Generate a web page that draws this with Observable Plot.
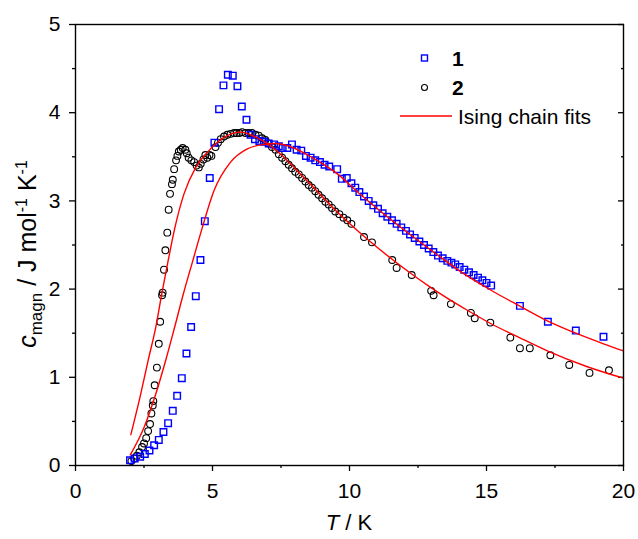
<!DOCTYPE html>
<html><head><meta charset="utf-8">
<script src="https://cdn.jsdelivr.net/npm/d3@7"></script>
<script src="https://cdn.jsdelivr.net/npm/@observablehq/plot@0.6"></script>
<style>
body{margin:0;background:#fff;}
svg{font-family:"Liberation Sans",Arial,sans-serif;}
</style>
</head><body><div id="chart"></div>
<script>
// Series 1 (blue squares): [T (K), c_magn]
const series1 = [[1.99,0.06],[2.16,0.08],[2.36,0.10],[2.53,0.13],[2.70,0.17],[2.87,0.23],[3.04,0.29],[3.21,0.38],[3.38,0.48],[3.55,0.62],[3.71,0.79],[3.88,0.99],[4.05,1.27],[4.22,1.57],[4.39,1.92],[4.56,2.33],[4.72,2.77],[4.90,3.26],[5.07,3.66],[5.24,4.04],[5.40,4.31],[5.56,4.43],[5.74,4.42],[5.91,4.30],[6.07,4.07],[6.24,3.92],[6.39,3.75],[6.55,3.70],[6.71,3.68],[6.88,3.67],[7.05,3.65],[7.25,3.64],[7.42,3.62],[7.56,3.60],[7.73,3.60],[7.90,3.64],[8.07,3.58],[8.24,3.57],[8.41,3.51],[8.58,3.49],[8.75,3.46],[8.92,3.44],[9.09,3.41],[9.26,3.39],[9.55,3.36],[9.72,3.25],[9.90,3.26],[10.07,3.20],[10.21,3.15],[10.36,3.10],[10.53,3.05],[10.70,3.00],[10.87,2.95],[11.04,2.91],[11.21,2.86],[11.38,2.82],[11.55,2.78],[11.72,2.74],[11.89,2.70],[12.06,2.66],[12.21,2.62],[12.38,2.58],[12.55,2.54],[12.72,2.50],[12.89,2.46],[13.06,2.42],[13.23,2.38],[13.40,2.35],[13.57,2.32],[13.72,2.30],[13.86,2.28],[14.02,2.25],[14.19,2.22],[14.36,2.19],[14.53,2.16],[14.69,2.13],[14.85,2.10],[15.00,2.07],[15.17,2.04],[16.22,1.81],[17.24,1.63],[18.26,1.53],[19.27,1.46]];
// Series 2 (black circles)
const series2 = [[2.04,0.05],[2.14,0.08],[2.24,0.11],[2.33,0.15],[2.43,0.21],[2.50,0.25],[2.58,0.31],[2.65,0.39],[2.72,0.47],[2.77,0.59],[2.82,0.68],[2.84,0.73],[2.89,0.91],[2.97,1.11],[3.04,1.38],[3.09,1.63],[3.16,1.93],[3.18,1.96],[3.23,2.22],[3.28,2.44],[3.35,2.64],[3.40,2.90],[3.45,3.08],[3.52,3.19],[3.55,3.24],[3.60,3.36],[3.67,3.46],[3.72,3.51],[3.77,3.56],[3.84,3.58],[3.91,3.60],[4.01,3.58],[4.06,3.54],[4.13,3.49],[4.23,3.46],[4.33,3.44],[4.42,3.40],[4.50,3.38],[4.57,3.42],[4.67,3.47],[4.74,3.52],[4.81,3.49],[4.89,3.52],[4.96,3.51],[5.11,3.61],[5.20,3.66],[5.30,3.70],[5.42,3.73],[5.54,3.75],[5.66,3.76],[5.79,3.77],[5.88,3.77],[5.98,3.77],[6.08,3.78],[6.20,3.77],[6.32,3.77],[6.44,3.77],[6.57,3.75],[6.69,3.74],[6.81,3.71],[6.93,3.69],[7.05,3.65],[7.17,3.61],[7.30,3.58],[7.42,3.53],[7.54,3.49],[7.66,3.45],[7.78,3.41],[7.90,3.37],[8.02,3.33],[8.15,3.30],[8.27,3.26],[8.39,3.22],[8.51,3.18],[8.63,3.15],[8.75,3.11],[8.87,3.07],[9.00,3.03],[9.12,2.99],[9.24,2.96],[9.36,2.92],[9.48,2.88],[9.63,2.85],[9.78,2.81],[9.92,2.78],[10.07,2.74],[10.53,2.59],[10.82,2.53],[11.56,2.33],[11.72,2.24],[12.27,2.16],[12.98,1.98],[13.07,1.93],[13.70,1.83],[14.43,1.73],[14.57,1.67],[15.14,1.62],[15.87,1.45],[16.22,1.33],[16.58,1.33],[17.33,1.25],[18.02,1.14],[18.76,1.05],[19.47,1.08]];
// Ising chain fit curves
const fit1 = [[2.0,0.12],[2.5,0.43],[2.93,0.81],[3.29,1.19],[3.62,1.57],[3.94,1.95],[4.28,2.32],[4.63,2.70],[5.06,3.12],[5.66,3.44],[6.27,3.59],[6.88,3.64],[7.3,3.65],[7.8,3.62],[8.7,3.48],[9.5,3.32],[10.41,3.07],[11.14,2.88],[12.0,2.67],[13.2,2.39],[14.0,2.21],[15.15,1.99],[16.2,1.81],[17.22,1.64],[18.26,1.50],[19.27,1.38],[20.0,1.30]];
const fit2 = [[2.02,0.35],[2.38,0.81],[2.65,1.19],[2.93,1.57],[3.15,1.95],[3.38,2.32],[3.63,2.70],[3.96,3.08],[4.39,3.38],[4.87,3.57],[5.42,3.72],[6.03,3.78],[6.6,3.72],[7.0,3.65],[7.49,3.53],[8.1,3.34],[8.7,3.15],[9.5,2.89],[10.41,2.63],[11.14,2.44],[12.23,2.18],[12.96,2.02],[13.45,1.92],[14.3,1.76],[15.15,1.61],[16.2,1.45],[17.22,1.30],[18.68,1.12],[20.0,0.99]];
const xMajor = [0,5,10,15,20];
const xMinor = [2.5,7.5,12.5,17.5];
const yMajor = [0,1,2,3,4,5];
const yMinor = [0.5,1.5,2.5,3.5,4.5];
const legendItems = ["1","2","Ising chain fits"];

const font = "Liberation Sans, Arial, sans-serif";
const chart = Plot.plot({
  width: 638, height: 539,
  marginLeft: 75, marginRight: 15, marginTop: 24, marginBottom: 74,
  style: {fontFamily: font, fontSize: "20px", background: "white", color: "black"},
  x: {domain: [0, 20], label: null},
  y: {domain: [0, 5], label: null},
  marks: [
    Plot.axisX({ticks: xMajor, tickSize: 6, tickPadding: 12, tickFormat: d => d, label: null, strokeWidth: 1.3, fontSize: 21}),
    Plot.axisX({ticks: xMinor, tickSize: 3, tickFormat: () => "", label: null, strokeWidth: 1.3}),
    Plot.axisY({ticks: yMajor, tickSize: 6, tickPadding: 9, tickFormat: d => d, label: null, strokeWidth: 1.3, fontSize: 21}),
    Plot.axisY({ticks: yMinor, tickSize: 3, tickFormat: () => "", label: null, strokeWidth: 1.3}),
    Plot.axisY({anchor: "right", ticks: yMajor, tickSize: 6, dx: -6, tickFormat: () => "", label: null, strokeWidth: 1.3}),
    Plot.axisY({anchor: "right", ticks: yMinor, tickSize: 3, dx: -3, tickFormat: () => "", label: null, strokeWidth: 1.3}),
    Plot.dot(series2, {x: d => d[0], y: d => d[1], r: 3.4, stroke: "black", strokeWidth: 1.1, fill: "none"}),
    Plot.dot(series1, {x: d => d[0], y: d => d[1], symbol: "square", r: 3.7, stroke: "#0000ff", strokeWidth: 1.4, fill: "none"}),
    Plot.line(fit1, {x: d => d[0], y: d => d[1], stroke: "#ff0000", strokeWidth: 1.4, curve: "monotone-x"}),
    Plot.line(fit2, {x: d => d[0], y: d => d[1], stroke: "#ff0000", strokeWidth: 1.4, curve: "monotone-x"}),
    Plot.frame({stroke: "black", strokeWidth: 1.4})
  ]
});
document.getElementById("chart").appendChild(chart);

const svg = d3.select(chart);
// x-axis title: T / K
const xt = svg.append("text").attr("x", 349).attr("y", 530).attr("text-anchor", "middle")
  .attr("font-size", 22).attr("fill", "black").attr("font-family", font);
xt.append("tspan").attr("font-style", "italic").text("T");
xt.append("tspan").text(" / K");
// y-axis title
const yt = svg.append("text").attr("transform", "translate(36,254) rotate(-90)").attr("text-anchor", "middle")
  .attr("font-size", 25).attr("fill", "black").attr("font-family", font);
yt.append("tspan").attr("font-style", "italic").text("c");
yt.append("tspan").attr("font-size", 17).attr("dy", 6).text("magn");
yt.append("tspan").attr("dy", -6).text(" / J mol");
yt.append("tspan").attr("font-size", 16).attr("dy", -9).text("-1");
yt.append("tspan").attr("dy", 9).text(" K");
yt.append("tspan").attr("font-size", 16).attr("dy", -9).text("-1");

// legend
const lg = svg.append("g").attr("font-family", font).attr("fill", "black").attr("text-anchor", "start");
lg.append("rect").attr("x", 421.5).attr("y", 55).attr("width", 6).attr("height", 6)
  .attr("fill", "none").attr("stroke", "#0000ff").attr("stroke-width", 1.4);
lg.append("text").attr("x", 452).attr("y", 65.5).attr("font-size", 21).attr("font-weight", "bold").text(legendItems[0]);
lg.append("circle").attr("cx", 424.5).attr("cy", 87.5).attr("r", 3).attr("fill", "none").attr("stroke", "black").attr("stroke-width", 1.1);
lg.append("text").attr("x", 452).attr("y", 95).attr("font-size", 21).attr("font-weight", "bold").text(legendItems[1]);
lg.append("line").attr("x1", 400).attr("x2", 452).attr("y1", 116).attr("y2", 116).attr("stroke", "#ff0000").attr("stroke-width", 1.4);
lg.append("text").attr("x", 458).attr("y", 123.5).attr("font-size", 21).text(legendItems[2]);
</script>
</body></html>
